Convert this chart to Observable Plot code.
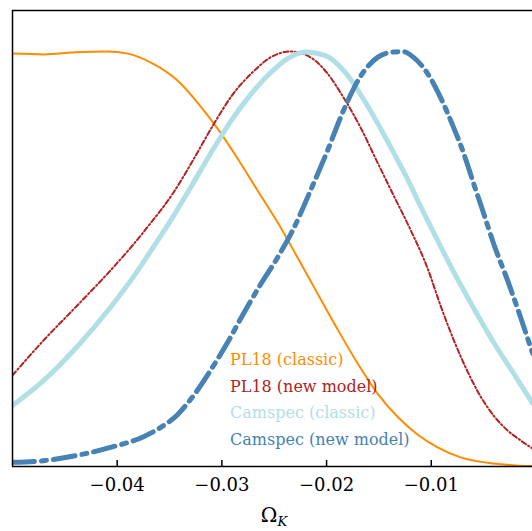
<!DOCTYPE html>
<html><head><meta charset="utf-8">
<script src="https://cdn.jsdelivr.net/npm/d3@7"></script>
<script src="https://cdn.jsdelivr.net/npm/@observablehq/plot@0.6"></script>
<style>
html,body{margin:0;padding:0;background:#fff;overflow:hidden;}
#wrap{position:relative;width:532px;height:531px;}
.legend{position:absolute;left:230px;top:347px;font-family:"DejaVu Serif","Liberation Serif",serif;font-size:16px;line-height:26.7px;white-space:nowrap;}
</style></head><body><div id="wrap"></div>
<script>
// PL18 (classic)
const pl18ClassicX = [-0.05, -0.04704, -0.04398, -0.04092, -0.03901, -0.03682, -0.03424, -0.03233, -0.03041, -0.0285, -0.02659, -0.02468, -0.02277, -0.02086, -0.01895, -0.01704, -0.01513, -0.01322, -0.01131, -0.0094, -0.0072, -0.00405, -0.00032];
const pl18ClassicY = [0.996, 0.994, 0.999, 1.001, 0.996, 0.975, 0.931, 0.878, 0.815, 0.743, 0.666, 0.589, 0.504, 0.417, 0.331, 0.249, 0.176, 0.120, 0.077, 0.046, 0.022, 0.007, 0.001];
// PL18 (new model)
const pl18NewX = [-0.05, -0.04704, -0.04379, -0.04064, -0.03844, -0.03653, -0.03557, -0.03462, -0.03271, -0.0308, -0.02889, -0.02698, -0.02535, -0.02344, -0.02153, -0.01991, -0.01838, -0.01676, -0.01513, -0.0136, -0.01198, -0.01035, -0.00911, -0.00787, -0.00653, -0.00529, -0.00405, -0.00271, -0.00147, -0.00032];
const pl18NewY = [0.220, 0.304, 0.389, 0.473, 0.536, 0.596, 0.627, 0.661, 0.741, 0.825, 0.900, 0.953, 0.987, 1.001, 0.987, 0.948, 0.890, 0.818, 0.733, 0.654, 0.571, 0.478, 0.388, 0.306, 0.229, 0.169, 0.123, 0.087, 0.063, 0.043];
// Camspec (classic)
const camClassicX = [-0.05, -0.04704, -0.04379, -0.04064, -0.03844, -0.03682, -0.0349, -0.03299, -0.03108, -0.02917, -0.02726, -0.02535, -0.02373, -0.02201, -0.0201, -0.01819, -0.01628, -0.01436, -0.01245, -0.01054, -0.00911, -0.00768, -0.00577, -0.00386, -0.00194, -0.00032];
const camClassicY = [0.147, 0.207, 0.290, 0.384, 0.458, 0.519, 0.593, 0.673, 0.755, 0.832, 0.897, 0.950, 0.984, 1.000, 0.991, 0.950, 0.878, 0.793, 0.702, 0.603, 0.531, 0.461, 0.374, 0.292, 0.217, 0.152];
// Camspec (new model)
const camNewX = [-0.05, -0.04704, -0.04379, -0.04064, -0.03748, -0.03586, -0.03424, -0.03271, -0.03108, -0.02946, -0.02793, -0.02631, -0.02468, -0.02315, -0.02153, -0.01991, -0.01838, -0.01676, -0.01513, -0.01389, -0.01274, -0.01169, -0.01035, -0.00911, -0.00787, -0.00691, -0.00596, -0.005, -0.00405, -0.00271, -0.00147, -0.00032];
const camNewY = [0.010, 0.014, 0.027, 0.046, 0.072, 0.094, 0.125, 0.171, 0.232, 0.299, 0.369, 0.439, 0.504, 0.574, 0.666, 0.762, 0.859, 0.941, 0.987, 0.999, 1.001, 0.987, 0.948, 0.890, 0.818, 0.756, 0.683, 0.611, 0.538, 0.449, 0.360, 0.273];

const seriesNames = ["PL18 (classic)", "PL18 (new model)", "Camspec (classic)", "Camspec (new model)"];
const seriesColors = ["#ff8c00", "#b22222", "#b0e0e6", "#4682b4"];
const xTicks = [-0.04, -0.03, -0.02, -0.01];

const seriesData = [[pl18ClassicX, pl18ClassicY], [pl18NewX, pl18NewY], [camClassicX, camClassicY], [camNewX, camNewY]];
const rows = seriesData.map(([xs, ys], k) => xs.map((x, i) => ({series: seriesNames[k], x, y: ys[i]})));
const widths = [2, 2, 5, 5];
const dashes = [null, "5,2.5,1.5,2.5", null, "22,7,5,7"];
const serif = "'DejaVu Serif', 'Liberation Serif', serif";

const plot = Plot.plot({
  width: 532, height: 531,
  marginLeft: 12, marginTop: 10, marginBottom: 65, marginRight: 0,
  x: {domain: [-0.05, -0.00033]},
  y: {domain: [0, 1.1], axis: null},
  style: {fontFamily: serif, fontSize: "18px", background: "white", overflow: "hidden", color: "black"},
  marks: [
    ...rows.map((r, k) => Plot.line(r, {x: "x", y: "y", stroke: seriesColors[k], strokeWidth: widths[k], strokeDasharray: dashes[k], curve: "monotone-x", clip: true})),
    Plot.ruleX([-0.05], {stroke: "black", strokeWidth: 1.5}),
    Plot.ruleY([1.1], {stroke: "black", strokeWidth: 1.5}),
    Plot.ruleY([0], {stroke: "black", strokeWidth: 1.5}),
    Plot.tickX(xTicks, {x: d => d, stroke: "black", strokeWidth: 1.5, insetTop: 450}),
    Plot.axisX(xTicks, {tickSize: 0, tickPadding: 12, tickFormat: d => "\u2212" + Math.abs(d).toFixed(2), fontSize: 18, fontFamily: serif, fill: "black", label: null})
  ]
});

const svg = d3.select(plot);
const lab = svg.append("text").attr("x", 274).attr("y", 522).attr("text-anchor", "middle")
  .attr("font-family", serif).attr("fill", "black");
lab.append("tspan").attr("font-size", 20).text("\u03A9");
lab.append("tspan").attr("font-size", 13).attr("font-style", "italic").attr("dy", 4).text("K");

const wrap = document.getElementById("wrap");
wrap.appendChild(plot);
const legend = document.createElement("div");
legend.className = "legend";
seriesNames.forEach((n, k) => {
  const d = document.createElement("div");
  d.textContent = n;
  d.style.color = seriesColors[k];
  legend.appendChild(d);
});
wrap.appendChild(legend);
</script></body></html>
